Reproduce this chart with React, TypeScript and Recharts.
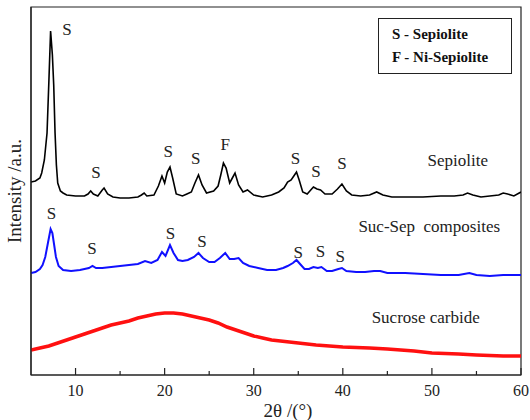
import React from "react";
import {
  Line,
  LineChart,
  ReferenceArea,
  ReferenceDot,
  XAxis,
  YAxis,
} from "recharts";

// 2θ (deg) vs relative intensity (arbitrary units, offset per trace)
const sepiolite = [
  [5.0, 193], [5.5, 194], [6.0, 197], [6.2, 202], [6.5, 215], [6.8, 242],
  [7.0, 292], [7.2, 344], [7.4, 320], [7.55, 290], [7.7, 242], [7.85, 210],
  [8.0, 192], [8.3, 184], [8.6, 182], [9.0, 180], [10.0, 179], [11.0, 179], [11.4, 181],
  [11.7, 184], [12.0, 181], [12.5, 179], [13.0, 185], [13.2, 187], [13.6, 181],
  [14.2, 178], [15.0, 177], [16.0, 177], [17.0, 178], [17.4, 180], [17.7, 182],
  [18.0, 179], [18.8, 180], [19.3, 189], [19.7, 199], [20.0, 192], [20.3, 203],
  [20.6, 208], [20.9, 197], [21.3, 181], [22.0, 179], [22.5, 181], [23.0, 183],
  [23.4, 192], [23.8, 200], [24.2, 190], [24.7, 182], [25.5, 184], [26.0, 189],
  [26.3, 200], [26.6, 212], [26.9, 207], [27.3, 192], [27.6, 197], [27.9, 202],
  [28.3, 190], [28.8, 183], [29.3, 185], [30.0, 180], [31.0, 178], [32.0, 180],
  [32.8, 183], [33.4, 187], [33.8, 193], [34.2, 195], [34.5, 199], [34.8, 203],
  [35.1, 195], [35.5, 183], [36.0, 181], [36.4, 185], [36.7, 188], [37.1, 186],
  [37.5, 185], [38.0, 181], [38.8, 181], [39.4, 186], [39.9, 191], [40.4, 184],
  [41.0, 180], [42.0, 179], [43.0, 180], [43.8, 183], [44.5, 180], [45.5, 178],
  [47.0, 178], [49.0, 178], [51.0, 179], [52.5, 179], [53.5, 180], [54.0, 182],
  [54.6, 180], [55.5, 178], [56.5, 179], [57.5, 180], [58.0, 182], [58.5, 181],
  [59.2, 179], [60.0, 183],
].map(([x, y]) => ({ x, y }));

const sucSep = [
  [5.0, 102], [5.5, 103], [6.0, 106], [6.3, 110], [6.6, 118], [6.9, 132],
  [7.2, 146], [7.4, 142], [7.6, 130], [7.8, 118], [8.1, 109], [8.6, 105],
  [9.5, 104], [10.5, 105], [11.5, 107], [11.9, 109], [12.3, 107], [13.0, 107],
  [14.0, 108], [15.0, 109], [16.0, 110], [17.0, 111], [17.8, 114], [18.5, 112],
  [19.2, 115], [19.7, 123], [20.1, 119], [20.6, 130], [21.0, 122], [21.5, 115],
  [22.0, 114], [22.6, 115], [23.3, 118], [23.8, 122], [24.3, 117], [25.0, 113],
  [25.6, 113], [26.2, 117], [26.8, 122], [27.3, 116], [27.8, 116], [28.3, 117],
  [28.8, 112], [29.5, 109], [30.5, 107], [31.5, 105], [32.5, 105], [33.3, 107],
  [33.8, 109], [34.4, 112], [34.8, 115], [35.2, 111], [35.7, 106], [36.2, 106],
  [36.7, 108], [37.2, 107], [37.6, 108], [38.2, 104], [38.8, 104], [39.5, 106],
  [39.9, 107], [40.4, 104], [41.5, 103], [42.5, 103], [43.5, 104], [44.2, 104],
  [45.0, 102], [47.0, 102], [49.0, 101], [51.0, 100], [53.0, 100], [54.2, 102],
  [55.0, 100], [56.5, 99], [58.0, 100], [60.0, 100],
].map(([x, y]) => ({ x, y }));

const sucroseCarbide = [
  [5, 25], [6, 27], [7, 29], [8, 32], [9, 35], [10, 38], [11, 41], [12, 44],
  [13, 47], [14, 50], [15, 52], [16, 54], [17, 57], [18, 59], [19, 61],
  [20, 62], [21, 62], [22, 61], [23, 59], [24, 57], [25, 55], [26, 52],
  [27, 48], [28, 45], [29, 42], [30, 39], [31, 37], [32, 35], [33, 34],
  [34, 33], [35, 32], [37, 30], [40, 28], [43, 27], [45, 26], [48, 24],
  [50, 22], [53, 21], [55, 20], [58, 19], [60, 19],
].map(([x, y]) => ({ x, y }));

const allTicks = [10, 15, 20, 25, 30, 35, 40, 45, 50, 55, 60];

// peak markers: [2θ, height, text]
const peakLabels: [number, number, string][] = [
  [9.04, 346, "S"], [12.3, 203, "S"], [20.4, 224, "S"], [23.5, 217, "S"],
  [26.8, 231, "F"], [34.7, 217, "S"], [37.0, 204, "S"], [39.9, 212, "S"],
  [7.3, 162, "S"], [11.85, 127, "S"], [20.65, 142, "S"], [24.2, 134, "S"],
  [35.0, 123, "S"], [37.5, 124, "S"], [39.7, 119, "S"],
];

const traceLabels: [number, number, string][] = [
  [52.9, 215, "Sepiolite"],
  [49.7, 149, "Suc-Sep  composites"],
  [49.3, 58, "Sucrose carbide"],
];

const legendItems = ["S - Sepiolite", "F - Ni-Sepiolite"];

const FONT = "Liberation Serif";

function XTick({ x, y, payload }: any) {
  const major = payload.value % 10 === 0;
  return (
    <g>
      <line x1={x} y1={y} x2={x} y2={y - (major ? 7 : 4)} stroke="#222" strokeWidth={1.2} />
      {major && (
        <text x={x} y={y + 15} dy="0.35em" textAnchor="middle" fontSize={16} fontFamily={FONT} fill="#222">
          {payload.value}
        </text>
      )}
    </g>
  );
}

function TextMark({ viewBox, value, size }: any) {
  return (
    <text
      x={viewBox.x}
      y={viewBox.y}
      dy="0.35em"
      textAnchor="middle"
      fontSize={size}
      fontFamily={FONT}
      fill="#222"
      style={{ whiteSpace: "pre" }}
    >
      {value}
    </text>
  );
}

export default function App() {
  return (
    <div style={{ position: "absolute", left: 0, top: 0, width: 530, height: 420, background: "#fff", fontFamily: FONT }}>
      <LineChart width={530} height={420} margin={{ top: 7, right: 9, left: 0, bottom: 0 }}>
        <XAxis
          dataKey="x"
          type="number"
          domain={[5, 60]}
          ticks={allTicks}
          interval={0}
          tick={<XTick />}
          tickLine={false}
          tickSize={0}
          tickMargin={0}
          height={45}
          axisLine={{ stroke: "#222", strokeWidth: 1.2 }}
          allowDataOverflow
          label={({ viewBox }: any) => (
            <text
              x={viewBox.x + viewBox.width / 2 + 12}
              y={410}
              dy="0.35em"
              textAnchor="middle"
              fontSize={19}
              fontFamily={FONT}
              fill="#222"
            >
              2θ /(°)
            </text>
          )}
        />
        <YAxis
          type="number"
          domain={[0, 368]}
          tick={false}
          tickLine={false}
          width={31}
          axisLine={{ stroke: "#222", strokeWidth: 1.2 }}
          allowDataOverflow
          label={({ viewBox }: any) => {
            const cx = 14;
            const cy = viewBox.y + viewBox.height / 2;
            return (
              <text
                x={cx}
                y={cy}
                dy="0.35em"
                textAnchor="middle"
                transform={`rotate(-90 ${cx} ${cy})`}
                fontSize={19}
                fontFamily={FONT}
                fill="#222"
              >
                Intensity /a.u.
              </text>
            );
          }}
        />
        <ReferenceArea
          x1={5}
          x2={60}
          y1={0}
          y2={368}
          fill="none"
          stroke="#222"
          strokeWidth={1.2}
          ifOverflow="visible"
        />
        <Line
          data={sucroseCarbide}
          dataKey="y"
          type="linear"
          stroke="#ff1010"
          strokeWidth={3.5}
          dot={false}
          isAnimationActive={false}
        />
        <Line
          data={sucSep}
          dataKey="y"
          type="linear"
          stroke="#1010ff"
          strokeWidth={2}
          dot={false}
          isAnimationActive={false}
        />
        <Line
          data={sepiolite}
          dataKey="y"
          type="linear"
          stroke="#000"
          strokeWidth={1.6}
          dot={false}
          isAnimationActive={false}
        />
        {peakLabels.map(([x, y, t], i) => (
          <ReferenceDot
            key={`p${i}`}
            x={x}
            y={y}
            r={0}
            stroke="none"
            ifOverflow="visible"
            label={<TextMark value={t} size={17} />}
          />
        ))}
        {traceLabels.map(([x, y, t], i) => (
          <ReferenceDot
            key={`t${i}`}
            x={x}
            y={y}
            r={0}
            stroke="none"
            ifOverflow="visible"
            label={<TextMark value={t} size={17} />}
          />
        ))}
      </LineChart>
      <div
        style={{
          position: "absolute",
          left: 378,
          top: 18,
          width: 134,
          height: 56,
          border: "1.2px solid #222",
          background: "#fff",
          fontFamily: FONT,
          fontWeight: "bold",
          fontSize: 15,
          color: "#111",
          boxSizing: "border-box",
          paddingLeft: 13,
          paddingTop: 4,
          lineHeight: "23px",
        }}
      >
        {legendItems.map((item) => (
          <div key={item}>{item}</div>
        ))}
      </div>
    </div>
  );
}
